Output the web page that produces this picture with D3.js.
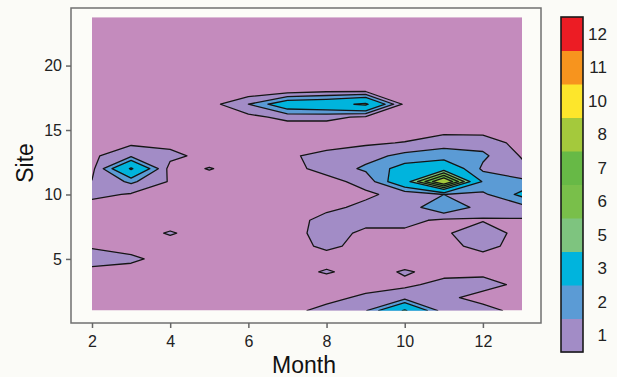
<!DOCTYPE html>
<html>
<head>
<meta charset="utf-8">
<script src="https://cdn.jsdelivr.net/npm/d3@7"></script>
<style>
  html, body { margin: 0; padding: 0; background: #fbfbf7; }
  svg { display: block; font-family: "Liberation Sans", Arial, sans-serif; }
</style>
</head>
<body>
<svg id="chart" width="617" height="377"></svg>
<script>
// months along x, sites along y
const months = [2, 3, 4, 5, 6, 7, 8, 9, 10, 11, 12, 13];
const sites = [1, 2, 3, 4, 5, 6, 7, 8, 9, 10, 11, 12, 13, 14, 15, 16, 17, 18, 19, 20, 21, 22, 23, 24];

// values, one row per site (site 1 first), one column per month
const values = [
  [0.3, 0.3, 0.3, 0.3, 0.3, 0.7, 1.3, 1.9, 5.2, 1.4, 1.3, 0.7],   // site 1
  [0.4, 0.3, 0.3, 0.3, 0.3, 0.5, 0.7, 1.2, 1.6, 1.2, 0.7, 0.6],   // site 2
  [0.5, 0.4, 0.3, 0.3, 0.3, 0.4, 0.5, 0.6, 0.8, 1.3, 1.3, 0.8],   // site 3
  [0.73, 0.6, 0.4, 0.3, 0.3, 0.6, 1.1, 0.6, 1.1, 0.7, 0.8, 0.5],  // site 4
  [1.4, 1.2, 0.6, 0.4, 0.3, 0.4, 0.6, 0.5, 0.5, 0.5, 0.5, 0.4],   // site 5
  [0.9, 0.6, 0.5, 0.4, 0.3, 0.6, 1.2, 0.7, 0.6, 0.6, 1.4, 0.5],   // site 6
  [0.5, 0.5, 1.1, 0.5, 0.3, 0.6, 1.4, 0.8, 0.8, 0.8, 1.8, 0.5],   // site 7
  [0.4, 0.4, 0.5, 0.3, 0.3, 0.6, 1.3, 1.3, 1.3, 0.8, 0.9, 0.9],   // site 8
  [0.5, 0.4, 0.4, 0.3, 0.3, 0.5, 0.8, 1.2, 1.3, 3.0, 1.5, 1.6],   // site 9
  [1.3, 0.9, 0.6, 0.3, 0.3, 0.4, 0.6, 0.85, 1.3, 2.0, 1.8, 3.3],  // site 10
  [1.05, 2.2, 0.9, 0.6, 0.4, 0.5, 0.7, 1.3, 4.3, 9.5, 2.8, 2.2],  // site 11
  [0.7, 5.2, 0.6, 1.05, 0.6, 0.7, 1.3, 2.2, 3.5, 4.3, 1.8, 1.3],  // site 12
  [0.8, 1.8, 1.3, 0.6, 0.4, 0.85, 1.3, 1.6, 2.3, 2.4, 2.2, 0.9],  // site 13
  [0.5, 0.8, 0.7, 0.3, 0.3, 0.4, 0.6, 0.85, 1.05, 1.7, 1.6, 0.6], // site 14
  [0.2, 0.2, 0.3, 0.3, 0.3, 0.3, 0.3, 0.3, 0.5, 0.6, 0.6, 0.4],   // site 15
  [0.2, 0.2, 0.2, 0.3, 0.7, 1.3, 1.3, 0.8, 0.4, 0.3, 0.2, 0.2],   // site 16
  [0.2, 0.2, 0.3, 0.6, 2.0, 4.0, 4.3, 5.3, 0.7, 0.3, 0.2, 0.2],   // site 17
  [0.2, 0.2, 0.2, 0.2, 0.3, 0.6, 0.9, 0.95, 0.6, 0.3, 0.2, 0.2],  // site 18
  [0.2, 0.2, 0.2, 0.2, 0.2, 0.3, 0.4, 0.4, 0.3, 0.2, 0.2, 0.2],   // site 19
  [0.2, 0.2, 0.2, 0.2, 0.2, 0.2, 0.2, 0.2, 0.2, 0.2, 0.2, 0.2],   // site 20
  [0.2, 0.2, 0.2, 0.2, 0.2, 0.2, 0.2, 0.2, 0.2, 0.2, 0.2, 0.2],   // site 21
  [0.2, 0.2, 0.2, 0.2, 0.2, 0.2, 0.2, 0.2, 0.2, 0.2, 0.2, 0.2],   // site 22
  [0.2, 0.2, 0.2, 0.2, 0.2, 0.2, 0.2, 0.2, 0.2, 0.2, 0.2, 0.2],   // site 23
  [0.2, 0.2, 0.2, 0.2, 0.2, 0.2, 0.2, 0.2, 0.2, 0.2, 0.2, 0.2]    // site 24
];

// contour levels = legend labels
const levels = [1, 2, 3, 5, 6, 7, 8, 10, 11, 12];
const levelColors = ["#a28cc6", "#5b9bd5", "#00b4dd", "#7ec47f", "#79bf4a", "#67b946",
                     "#a4c93c", "#fde62b", "#f7941e", "#ec1c24"];
const baseColor = "#c48bbd";

const xTicks = [2, 4, 6, 8, 10, 12];
const yTicks = [5, 10, 15, 20];

const svg = d3.select("#chart");

const x = d3.scaleLinear().domain([2, 13]).range([92, 522]);
const y = d3.scaleLinear().domain([1, 24]).range([310.5, 14]);
const siteTop = 23.75; // plotted area stops a bit below the last row

// frame
svg.append("rect")
    .attr("x", 71).attr("y", 8)
    .attr("width", 470).attr("height", 315)
    .attr("fill", "#fcfcf8")
    .attr("stroke", "#707070")
    .attr("stroke-width", 1.5);

// clip for the contour area
svg.append("clipPath").attr("id", "plotClip")
  .append("rect")
    .attr("x", x(2)).attr("y", y(siteTop))
    .attr("width", x(13) - x(2)).attr("height", y(1) - y(siteTop));

const plot = svg.append("g").attr("clip-path", "url(#plotClip)");

plot.append("rect")
    .attr("x", x(2)).attr("y", y(siteTop))
    .attr("width", x(13) - x(2)).attr("height", y(1) - y(siteTop))
    .attr("fill", baseColor);

// pad the grid by repeating its edges so contours run straight out of the clip
const nx = months.length + 2;
const ny = sites.length + 2;
const flat = new Array(nx * ny);
for (let j = 0; j < ny; j++) {
    const sj = Math.max(0, Math.min(sites.length - 1, j - 1));
    for (let i = 0; i < nx; i++) {
        const mi = Math.max(0, Math.min(months.length - 1, i - 1));
        flat[j * nx + i] = values[sj][mi];
    }
}

// grid coordinate -> month / site (sample i sits at i + 0.5)
const gx = d3.scaleLinear().domain([1.5, months.length + 0.5]).range([months[0], months[months.length - 1]]);
const gy = d3.scaleLinear().domain([1.5, sites.length + 0.5]).range([sites[0], sites[sites.length - 1]]);

const projection = d3.geoTransform({
    point: function(px, py) {
        this.stream.point(x(gx(px)), y(gy(py)));
    }
});
const path = d3.geoPath(projection);

const contours = d3.contours()
    .size([nx, ny])
    .thresholds(levels)(flat);

plot.selectAll("path.band")
    .data(contours)
    .join("path")
    .attr("class", "band")
    .attr("d", path)
    .attr("fill", (d, i) => levelColors[i])
    .attr("stroke", "#151515")
    .attr("stroke-width", 1.3)
    .attr("stroke-linejoin", "round");

// axes
const xAxis = svg.append("g")
    .attr("transform", "translate(0,323)")
    .call(d3.axisBottom(x).tickValues(xTicks).tickSize(5).tickPadding(8).tickSizeOuter(0));
const yAxis = svg.append("g")
    .attr("transform", "translate(71,0)")
    .call(d3.axisLeft(y).tickValues(yTicks).tickSize(5).tickPadding(4).tickSizeOuter(0));

[xAxis, yAxis].forEach(g => {
    g.select(".domain").remove();
    g.selectAll(".tick line").attr("stroke", "#666").attr("stroke-width", 1.5);
    g.selectAll(".tick text")
        .attr("fill", "#222")
        .style("font-size", "16px")
        .style("font-family", "'Liberation Sans', Arial, sans-serif");
});

svg.append("text")
    .attr("x", 304).attr("y", 373)
    .attr("text-anchor", "middle")
    .attr("fill", "#111")
    .style("font-size", "23px")
    .text("Month");

svg.append("text")
    .attr("transform", "translate(33,163) rotate(-90)")
    .attr("text-anchor", "middle")
    .attr("fill", "#111")
    .style("font-size", "23px")
    .text("Site");

// legend
const legendLabels = levels.map(String);
const legendY = d3.scaleBand()
    .domain(legendLabels.slice().reverse())
    .range([17, 352]);

const legend = svg.append("g");
legend.selectAll("rect.swatch")
    .data(legendLabels)
    .join("rect")
    .attr("class", "swatch")
    .attr("x", 561)
    .attr("y", d => legendY(d))
    .attr("width", 22)
    .attr("height", legendY.bandwidth() + 0.5)
    .attr("fill", (d, i) => levelColors[i]);

legend.append("rect")
    .attr("x", 561).attr("y", 17)
    .attr("width", 22).attr("height", 335)
    .attr("fill", "none")
    .attr("stroke", "#1a1a1a")
    .attr("stroke-width", 1.6);

legend.selectAll("text")
    .data(legendLabels)
    .join("text")
    .attr("x", 607)
    .attr("y", d => legendY(d) + legendY.bandwidth() / 2)
    .attr("dy", "0.35em")
    .attr("text-anchor", "end")
    .attr("fill", "#222")
    .style("font-size", "17px")
    .text(d => d);
</script>
</body>
</html>
